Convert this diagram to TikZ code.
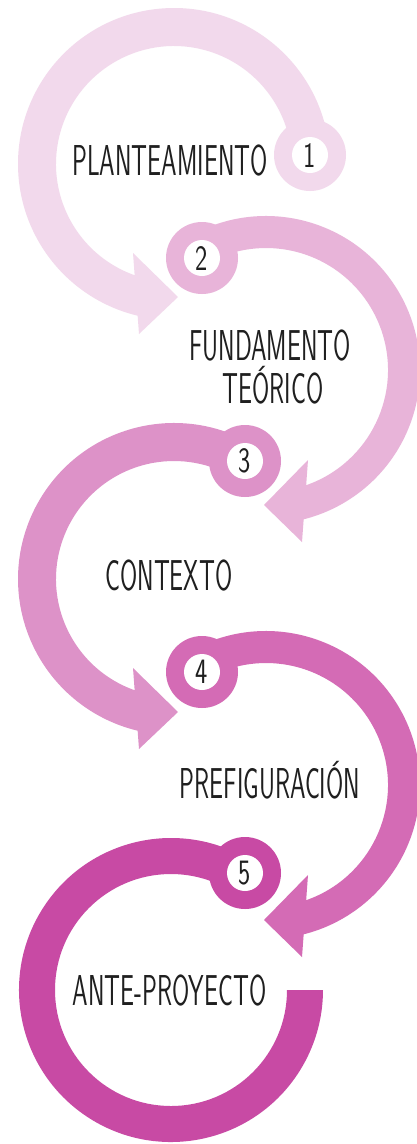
\documentclass[tikz,border=0pt]{standalone}
\usepackage{fontspec}
\newfontfamily\labfont{Latin Modern Sans}[FakeStretch=0.575]
\newfontfamily\numfont{Latin Modern Sans}[FakeStretch=0.73]
\definecolor{pA}{RGB}{242,217,236}
\definecolor{pB}{RGB}{232,180,217}
\definecolor{pC}{RGB}{221,146,200}
\definecolor{pD}{RGB}{212,107,181}
\definecolor{pE}{RGB}{200,74,164}
\begin{document}
\begin{tikzpicture}[x=1pt,y=1pt,
  steptext/.style={inner sep=0pt, anchor=base, text=black!88, font=\labfont\fontsize{43.2}{45}\selectfont},
  badge/.style={circle, minimum size=72pt, inner sep=0pt, fill=#1},
  hole/.style={circle, minimum size=36pt, inner sep=0pt, fill=white, text=black!88, font=\numfont\fontsize{35.7}{36}\selectfont},
]
\fill[white] (0,0) rectangle (417,-1144);
\useasboundingbox (0,0) rectangle (417,-1144);

% centres of the arcs
\coordinate (c1) at (174,-164);
\coordinate (c2) at (266,-370);
\coordinate (c3) at (174,-579);
\coordinate (c4) at (266,-785);
\coordinate (c5) at (171,-990);

% arrow 1
\fill[pA] ([shift={(c1)}]3.79:156) arc[start angle=3.79, end angle=256.52, radius=156]
  -- (139,-334) -- (178,-297) -- (133,-253)
  -- ([shift={(c1)}]250.52:118) arc[start angle=250.52, end angle=3.79, radius=118] -- cycle;
\node[badge=pA] (b1) at (310,-155) {};
\node[hole] (n1) at (b1) {1};

% arrow 2
\fill[pB] ([shift={(c2)}]119.7:154) arc[start angle=119.7, end angle=-75.84, radius=154]
  -- (302,-542) -- (264,-505) -- (308,-460)
  -- ([shift={(c2)}]-70.78:122) arc[start angle=-70.78, end angle=119.7, radius=122] -- cycle;
\node[badge=pB] (b2) at (202,-258) {};
\node[hole] (n2) at (b2) {2};

% arrow 3
\fill[pC] ([shift={(c3)}]58.96:156) arc[start angle=58.96, end angle=256.52, radius=156]
  -- (139,-749) -- (178,-712) -- (133,-668)
  -- ([shift={(c3)}]250.52:118) arc[start angle=250.52, end angle=58.96, radius=118] -- cycle;
\node[badge=pC] (b3) at (245,-461) {};
\node[hole] (n3) at (b3) {3};

% arrow 4
\fill[pD] ([shift={(c4)}]119.7:154) arc[start angle=119.7, end angle=-75.84, radius=154]
  -- (302,-957) -- (264,-920) -- (308,-875)
  -- ([shift={(c4)}]-70.78:122) arc[start angle=-70.78, end angle=119.7, radius=122] -- cycle;
\node[badge=pD] (b4) at (202,-672) {};
\node[hole] (n4) at (b4) {4};

% arc 5
\fill[pE] ([shift={(c5)}]57.7:152) arc[start angle=57.7, end angle=360, radius=152]
  -- ([shift={(c5)}]0:116) arc[start angle=360, end angle=57.7, radius=116] -- cycle;
\node[badge=pE] (b5) at (245,-873) {};
\node[hole] (n5) at (b5) {5};

% texts
\node[steptext] (t1) at (170,-175) {PLANTEAMIENTO};
\node[steptext] (t2a) at (270,-360) {FUNDAMENTO};
\node[steptext] (t2b) at (273,-403) {TEÓRICO};
\node[steptext] (t3) at (169,-590) {CONTEXTO};
\node[steptext] (t4) at (270,-798) {PREFIGURACIÓN};
\node[steptext] (t5) at (169.5,-1005) {ANTE-PROYECTO};
\end{tikzpicture}
\end{document}
